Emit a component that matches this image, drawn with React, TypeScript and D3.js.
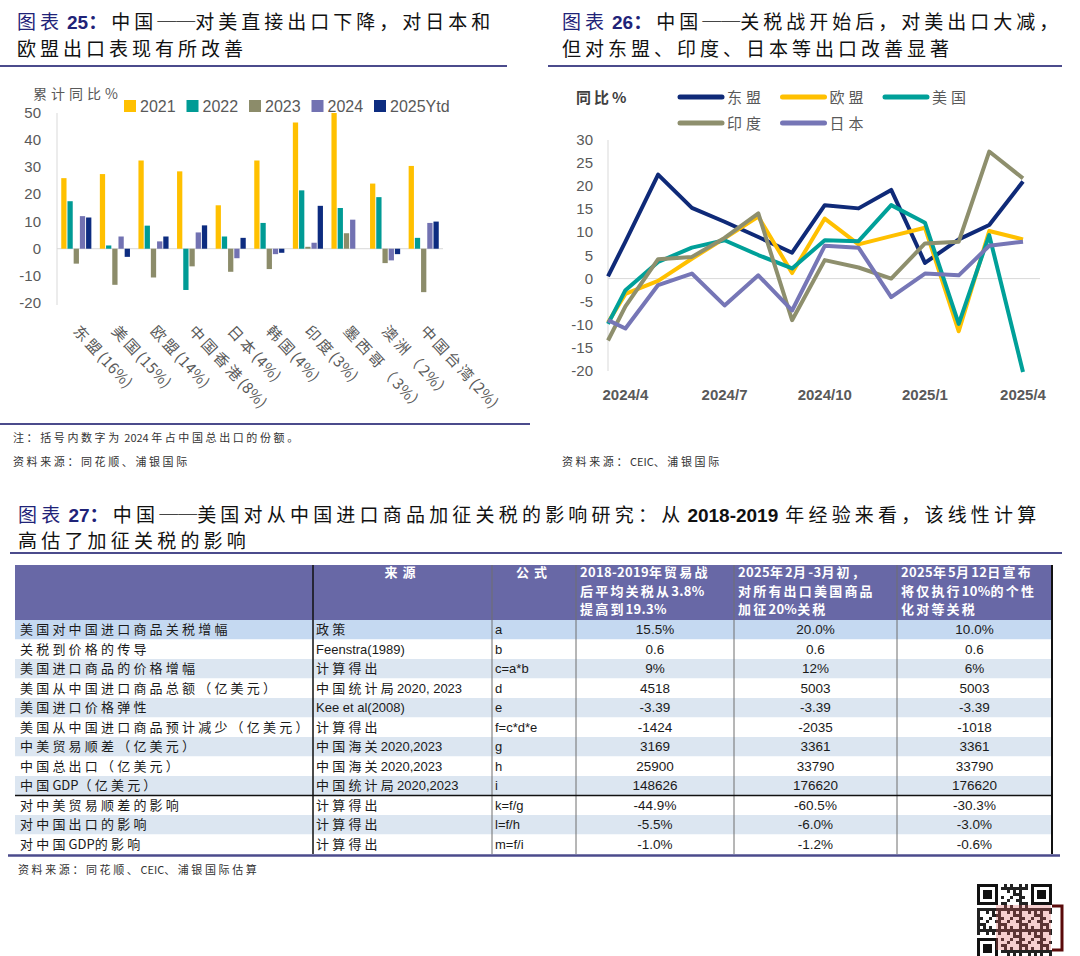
import React from 'react';
import * as d3 from 'd3';

// ---- chart 25: cumulative yoy export growth by destination ----
const regionLabels = ['东盟(16%)', '美国(15%)', '欧盟(14%)', '中国香港(8%)', '日本(4%)', '韩国(4%)', '印度(3%)', '墨西哥（3%）', '澳洲（2%）', '中国台湾(2%)'];
const yearKeys = ['2021', '2022', '2023', '2024', '2025Ytd'];
const growth2021 = [26, 27.5, 32.5, 28.5, 16, 32.5, 46.5, 50, 24, 30.5];
const growth2022 = [17.5, 1.2, 8.5, -15.2, 4.5, 9.5, 21.5, 15, 19, 4];
const growth2023 = [-5.5, -13.3, -10.6, -6.5, -8.5, -7.5, 0.7, 5.7, -5.3, -16];
const growth2024 = [12, 4.5, 2.7, 6, -3.5, -2, 2.2, 10.7, -4.3, 9.5];
const growth2025 = [11.5, -3, 4.5, 8.6, 4, -1.5, 15.8, null, -2, 10];
const barSeries = [growth2021, growth2022, growth2023, growth2024, growth2025];
const barColors = ['#FFC000', '#009B95', '#8C8C6A', '#7272B2', '#0D2C80'];
const barTicks = [50, 40, 30, 20, 10, 0, -10, -20];

// ---- chart 26: monthly yoy export growth ----
const monthDates = ['2024-03-16', '2024-04-01', '2024-05-01', '2024-06-01', '2024-07-01', '2024-08-01', '2024-09-01',
  '2024-10-01', '2024-11-01', '2024-12-01', '2025-01-01', '2025-02-01', '2025-03-01', '2025-04-01'];
const aseanYoy = [0.5, 8, 22.5, 15.3, 12.3, 9, 5.6, 15.9, 15.2, 19.2, 3.4, 8.5, 11.6, 21];
const euYoy = [-9.5, -3.3, -0.5, 4.3, 8.7, 13.4, 1.2, 13, 7.4, 9.2, 11, -11.4, 10.3, 8.5];
const usYoy = [-9.8, -2.5, 3.6, 6.7, 8.3, 5.1, 2.2, 8.3, 8.1, 15.9, 12.1, -9.8, 9.4, -20.2];
const indiaYoy = [-13.4, -6, 4.2, 4.7, 8.8, 14.1, -9, 4, 2.4, 0, 7.6, 8, 27.5, 21.7];
const japanYoy = [-9, -10.8, -1.4, 1.1, -5.8, 0.7, -6.9, 7.1, 6.7, -4, 1.1, 0.7, 7.1, 8];
const lineNames = ['东盟', '欧盟', '美国', '印度', '日本'];
const lineSeries = [aseanYoy, euYoy, usYoy, indiaYoy, japanYoy];
const lineColors = ['#0F2A78', '#FFC000', '#00A099', '#8E8F6D', '#7676B6'];
const lineTicks = [30, 25, 20, 15, 10, 5, 0, -5, -10, -15, -20];
const lineTickDates = ['2024-04-01', '2024-07-01', '2024-10-01', '2025-01-01', '2025-04-01'];

// ---- chart 27: table ----
const rowItems = ['美国对中国进口商品关税增幅', '关税到价格的传导', '美国进口商品的价格增幅', '美国从中国进口商品总额（亿美元）',
  '美国进口价格弹性', '美国从中国进口商品预计减少（亿美元）', '中美贸易顺差（亿美元）', '中国总出口（亿美元）', '中国GDP（亿美元）',
  '对中美贸易顺差的影响', '对中国出口的影响', '对中国GDP的影响'];
const rowSources = ['政策', 'Feenstra(1989)', '计算得出', '中国统计局2020, 2023', 'Kee et al(2008)', '计算得出',
  '中国海关2020,2023', '中国海关2020,2023', '中国统计局2020,2023', '计算得出', '计算得出', '计算得出'];
const rowFormulas = ['a', 'b', 'c=a*b', 'd', 'e', 'f=c*d*e', 'g', 'h', 'i', 'k=f/g', 'l=f/h', 'm=f/i'];
const scenario2018 = ['15.5%', '0.6', '9%', '4518', '-3.39', '-1424', '3169', '25900', '148626', '-44.9%', '-5.5%', '-1.0%'];
const scenario2025Feb = ['20.0%', '0.6', '12%', '5003', '-3.39', '-2035', '3361', '33790', '176620', '-60.5%', '-6.0%', '-1.2%'];
const scenario2025May = ['10.0%', '0.6', '6%', '5003', '-3.39', '-1018', '3361', '33790', '176620', '-30.3%', '-3.0%', '-0.6%'];
const scenarioHeaders = [
  ['2018-2019年贸易战', '后平均关税从3.8%', '提高到19.3%'],
  ['2025年2月-3月初，', '对所有出口美国商品', '加征20%关税'],
  ['2025年5月12日宣布', '将仅执行10%的个性', '化对等关税'],
];

const CJKF = '"Noto Sans CJK SC", sans-serif';
const LATF = '"Liberation Sans", "Noto Sans CJK SC", sans-serif';
const NAVY = '#1F2378';
const RULE = '#4B4B8C';
const GREY = '#595959';
const DASH = '\u2500\u2500';

// dash stays out of the spaced runs so the two strokes join up
const isCJK = (c: string) => /[\u3000-\u303f\u3400-\u9fff\uff00-\uffef]/.test(c);
function splitRuns(s: string) {
  const out: { t: string; cjk: boolean }[] = [];
  for (const ch of s) {
    const c = isCJK(ch);
    const last = out[out.length - 1];
    if (last && last.cjk === c) last.t += ch;
    else out.push({ t: ch, cjk: c });
  }
  return out;
}

const Spaced = ({ text, sp, lsp = 0 }: { text: string; sp: number; lsp?: number }) => (
  <>
    {splitRuns(text).map((r, i) => (
      <tspan key={i} letterSpacing={r.cjk ? sp : lsp} dx={r.t.startsWith('\u2500') ? 0 : undefined}>{r.t}</tspan>
    ))}
  </>
);

const Title = ({ x, y, num, lines }: { x: number; y: number; num: string; lines: string[] }) => (
  <g fontFamily={CJKF} fontSize={19} fill="#111">
    <text x={x} y={y}>
      <tspan fill={NAVY} letterSpacing={4}>图表</tspan>
      <tspan fill={NAVY} fontWeight="bold" fontFamily={LATF} dx={4}>{num}</tspan>
      <tspan fill={NAVY} fontWeight="bold" letterSpacing={4}>：</tspan>
      <Spaced text={lines[0]} sp={4} lsp={0} />
    </text>
    {lines.slice(1).map((l, i) => (
      <text key={i} x={x} y={y + 27 * (i + 1)}>
        <Spaced text={l} sp={4} />
      </text>
    ))}
  </g>
);

function BarChart() {
  const x0 = d3.scaleBand<string>().domain(regionLabels).range([57, 443]).paddingInner(0.22).paddingOuter(0.11);
  const x1 = d3.scaleBand<string>().domain(yearKeys).range([0, x0.bandwidth()]).paddingInner(0.15);
  const y = d3.scaleLinear().domain([-20, 50]).range([303, 113]);
  return (
    <g>
      <line x1={57} x2={57} y1={y(50)} y2={y(-20) + 2} stroke="#D9D9D9" />
      <line x1={57} x2={443} y1={y(0)} y2={y(0)} stroke="#D9D9D9" />
      {barTicks.map((t) => (
        <text key={t} x={41} y={y(t) + 5} textAnchor="end" fontFamily={LATF} fontSize={15} fill={GREY}>{t}</text>
      ))}
      {barSeries.map((vals, si) =>
        vals.map((v, ci) =>
          v == null ? null : (
            <rect key={`${si}-${ci}`} x={(x0(regionLabels[ci]) as number) + (x1(yearKeys[si]) as number)}
              y={y(Math.max(0, v))} width={x1.bandwidth()} height={Math.abs(y(v) - y(0))} fill={barColors[si]} />
          )
        )
      )}
      {regionLabels.map((r) => {
        const cx = (x0(r) as number) + x0.bandwidth() / 2;
        return (
          <text key={r} transform={`translate(${cx + 1},327) rotate(47)`} dominantBaseline="central"
            fontFamily={CJKF} fontSize={15} fill={GREY}>
            <Spaced text={r} sp={3} lsp={0.5} />
          </text>
        );
      })}
      <text x={33} y={99} fontFamily={CJKF} fontSize={14} fill={GREY}>
        <Spaced text="累计同比%" sp={4} />
      </text>
      {yearKeys.map((k, i) => {
        const lx = 124 + i * 62.5;
        return (
          <g key={k}>
            <rect x={lx} y={100} width={12} height={12} fill={barColors[i]} />
            <text x={lx + 16} y={112} fontFamily={LATF} fontSize={16} fill={GREY}>{k}</text>
          </g>
        );
      })}
    </g>
  );
}

function LineChart() {
  const parse = d3.timeParse('%Y-%m-%d');
  const dates = monthDates.map((d) => parse(d) as Date);
  const x = d3.scaleTime().domain([dates[0], dates[dates.length - 1]]).range([608, 1023]);
  const y = d3.scaleLinear().domain([-20, 30]).range([371, 140]);
  const fmt = d3.timeFormat('%Y/%-m');
  const line = d3.line<number>().x((_, i) => x(dates[i])).y((v) => y(v));
  return (
    <g>
      <line x1={608} x2={608} y1={y(30)} y2={y(-20)} stroke="#D9D9D9" />
      <line x1={608} x2={1040} y1={y(0)} y2={y(0)} stroke="#D9D9D9" />
      {lineTicks.map((t) => (
        <text key={t} x={593} y={y(t) + 5} textAnchor="end" fontFamily={LATF} fontSize={15} fill={GREY}>{t}</text>
      ))}
      {lineTickDates.map((d) => {
        const dt = parse(d) as Date;
        return (
          <text key={d} x={x(dt)} y={400} textAnchor="middle" fontFamily={LATF} fontWeight="bold" fontSize={15} fill={GREY}>{fmt(dt)}</text>
        );
      })}
      {lineSeries.map((s, i) => (
        <path key={lineNames[i]} d={line(s) as string} fill="none" stroke={lineColors[i]} strokeWidth={4} strokeLinejoin="round" />
      ))}
      <text x={576} y={103} fontFamily={CJKF} fontSize={15} fontWeight="bold" fill="#404040">
        <Spaced text="同比%" sp={3} />
      </text>
      {lineNames.map((n, i) => {
        const lx = 680 + (i % 3) * 102.5;
        const ly = i < 3 ? 97 : 123;
        return (
          <g key={n}>
            <line x1={lx} x2={lx + 42} y1={ly} y2={ly} stroke={lineColors[i]} strokeWidth={5} strokeLinecap="round" />
            <text x={lx + 47} y={ly + 6} fontFamily={CJKF} fontSize={15} fill={GREY}>
              <Spaced text={n} sp={4} />
            </text>
          </g>
        );
      })}
    </g>
  );
}

function QrMark() {
  const n = 25;
  const s = 3;
  const ox = 977;
  const oy = 884;
  const cells: JSX.Element[] = [];
  const finder = (fx: number, fy: number) => (
    <g key={`f${fx}-${fy}`}>
      <rect x={ox + fx * s} y={oy + fy * s} width={7 * s} height={7 * s} fill="#111" />
      <rect x={ox + (fx + 1) * s} y={oy + (fy + 1) * s} width={5 * s} height={5 * s} fill="#fff" />
      <rect x={ox + (fx + 2) * s} y={oy + (fy + 2) * s} width={3 * s} height={3 * s} fill="#111" />
    </g>
  );
  for (let r = 0; r < n; r++) {
    for (let c = 0; c < n; c++) {
      const inF = (r < 8 && c < 8) || (r < 8 && c > n - 9) || (r > n - 9 && c < 8);
      if (inF) continue;
      if (((r * 7 + c * 11 + r * c * 3) % 7) < 3) {
        cells.push(<rect key={`${r}-${c}`} x={ox + c * s} y={oy + r * s} width={s} height={s} fill="#222" />);
      }
    }
  }
  return (
    <g>
      <rect x={ox} y={oy} width={n * s} height={n * s} fill="#fff" />
      {cells}
      {finder(0, 0)}
      {finder(n - 7, 0)}
      {finder(0, n - 7)}
      <rect x={996} y={905} width={55} height={45} fill="#E06060" opacity={0.3} />
      <path d="M1052,906 H1062 V950 H1052" fill="none" stroke="#5A0A0A" strokeWidth={3} />
    </g>
  );
}

function Table() {
  const cols = [15, 313, 492, 576, 734, 897, 1052];
  const top = 565;
  const headH = 55;
  const rowH = 19.5;
  const bodyTop = top + headH;
  const bottom = bodyTop + rowH * rowItems.length;
  const scenarios = [scenario2018, scenario2025Feb, scenario2025May];
  return (
    <g>
      <rect x={cols[0]} y={top} width={cols[6] - cols[0]} height={headH} fill="#6868A6" />
      {rowItems.map((_, i) => (
        <rect key={i} x={cols[0]} y={bodyTop + i * rowH} width={cols[6] - cols[0]} height={rowH}
          fill={i === 0 ? '#C5D9F1' : i % 2 === 0 ? '#DCE6F1' : '#FFFFFF'} />
      ))}
      <g fontFamily={CJKF} fontSize={13} fill="#fff" fontWeight="bold">
        <text x={(cols[1] + cols[2]) / 2} y={577} textAnchor="middle"><Spaced text="来源" sp={5} /></text>
        <text x={(cols[2] + cols[3]) / 2} y={577} textAnchor="middle"><Spaced text="公式" sp={5} /></text>
        {scenarioHeaders.map((lines, ci) =>
          lines.map((l, li) => (
            <text key={`${ci}-${li}`} x={cols[ci + 3] + 4} y={577 + li * 18.5}>
              <Spaced text={l} sp={2.2} lsp={0.3} />
            </text>
          ))
        )}
      </g>
      <g fontFamily={CJKF} fontSize={13} fill="#1A1A1A">
        {rowItems.map((t, i) => {
          const by = bodyTop + i * rowH + rowH / 2 + 4.5;
          return (
            <g key={i}>
              <text x={cols[0] + 5} y={by}><Spaced text={t} sp={3.2} /></text>
              <text x={cols[1] + 3} y={by} fontFamily={LATF}><Spaced text={rowSources[i]} sp={3.2} /></text>
              <text x={cols[2] + 3} y={by} fontFamily={LATF}>{rowFormulas[i]}</text>
              {scenarios.map((sc, k) => (
                <text key={k} x={(cols[k + 3] + cols[k + 4]) / 2} y={by} textAnchor="middle" fontFamily={LATF} fontSize={13.5}>{sc[i]}</text>
              ))}
            </g>
          );
        })}
      </g>
      {cols.slice(2, 6).map((c) => (
        <line key={c} x1={c} x2={c} y1={top} y2={bottom} stroke="#6F6F6F" strokeWidth={1} />
      ))}
      <line x1={cols[1]} x2={cols[1]} y1={top} y2={bottom} stroke="#111" strokeWidth={1.5} />
      <line x1={cols[6]} x2={cols[6]} y1={top} y2={bottom} stroke="#111" strokeWidth={2} />
      <line x1={cols[0]} x2={cols[6]} y1={bodyTop + rowH * 9} y2={bodyTop + rowH * 9} stroke="#111" strokeWidth={1.5} />
      <line x1={8} x2={1060} y1={bottom + 1.5} y2={bottom + 1.5} stroke={RULE} strokeWidth={2.5} />
    </g>
  );
}

export default function App() {
  return (
    <svg width={1080} height={956} style={{ position: 'absolute', left: 0, top: 0, background: '#fff' }}>
      <rect width={1080} height={956} fill="#fff" />
      <Title x={17} y={29} num="25" lines={[`中国${DASH}对美直接出口下降，对日本和`, '欧盟出口表现有所改善']} />
      <line x1={0} x2={507} y1={66} y2={66} stroke={RULE} strokeWidth={2} />
      <Title x={562} y={29} num="26" lines={[`中国${DASH}关税战开始后，对美出口大减，`, '但对东盟、印度、日本等出口改善显著']} />
      <line x1={548} x2={1062} y1={66} y2={66} stroke={RULE} strokeWidth={2} />
      <BarChart />
      <LineChart />
      <line x1={0} x2={530} y1={424} y2={424} stroke={RULE} strokeWidth={2} />
      <g fontFamily={CJKF} fontSize={11} fill="#333">
        <text x={13} y={442}><Spaced text="注：括号内数字为 2024 年占中国总出口的份额。" sp={2.6} /></text>
        <text x={13} y={466}><Spaced text="资料来源：同花顺、浦银国际" sp={2.6} /></text>
        <text x={562} y={466}><Spaced text="资料来源：CEIC、浦银国际" sp={2.6} /></text>
      </g>
      <g fontFamily={CJKF} fontSize={19} fill="#111">
        <text x={18} y={522}>
          <tspan fill={NAVY} letterSpacing={4.2}>图表</tspan>
          <tspan fill={NAVY} fontWeight="bold" fontFamily={LATF} dx={4}>27</tspan>
          <tspan fill={NAVY} fontWeight="bold" letterSpacing={4.2}>：</tspan>
          <Spaced text={`中国${DASH}美国对从中国进口商品加征关税的影响研究：从`} sp={4.2} />
          <tspan fontWeight="bold" fontFamily={LATF} dx={3}>2018-2019</tspan>
          <tspan dx={7} letterSpacing={4.2}>年经验来看，该线性计算</tspan>
        </text>
        <text x={18} y={548}><Spaced text="高估了加征关税的影响" sp={4.2} /></text>
      </g>
      <line x1={10} x2={1062} y1={553} y2={553} stroke={RULE} strokeWidth={2} />
      <Table />
      <text x={18} y={874} fontFamily={CJKF} fontSize={11} fill="#333">
        <Spaced text="资料来源：同花顺、CEIC、浦银国际估算" sp={2.6} />
      </text>
      <QrMark />
    </svg>
  );
}
